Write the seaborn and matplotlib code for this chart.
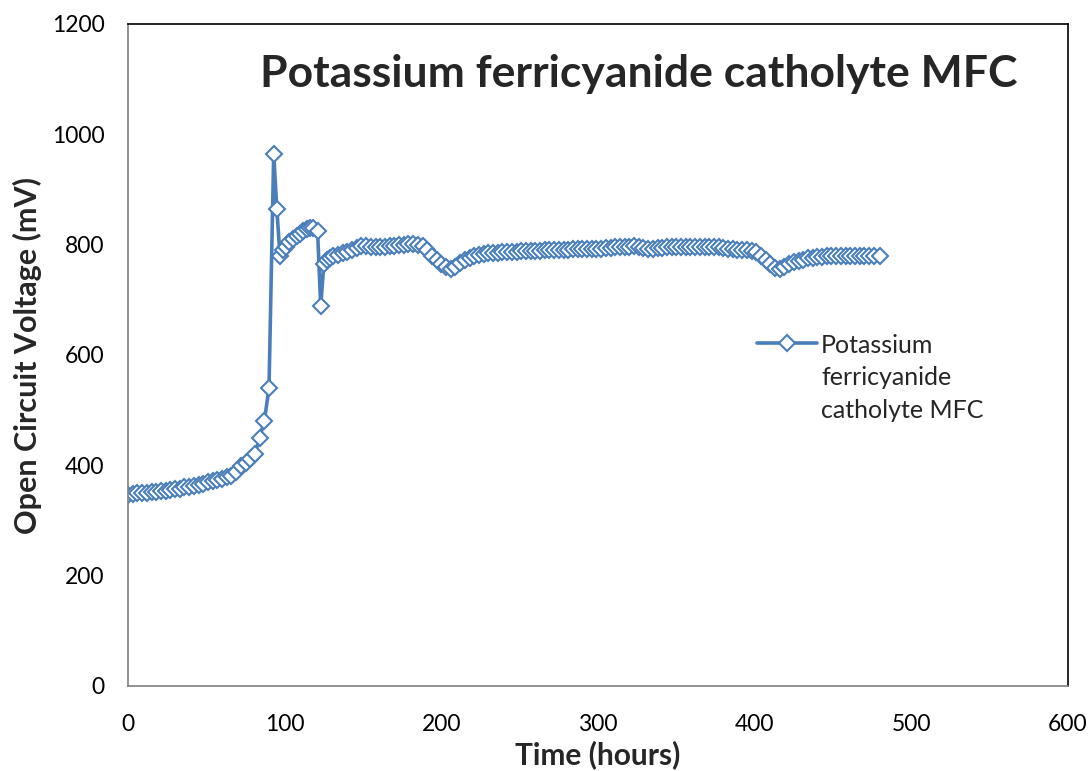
import matplotlib
matplotlib.use("Agg")
import matplotlib.pyplot as plt
import seaborn as sns
import pandas as pd

# =====================================
# Data
# =====================================

hours = [
    0, 3, 6, 9, 12, 15, 18, 21, 24, 27, 30, 33, 36, 39, 42, 45, 48, 51, 54, 57,
    60, 63, 66, 69, 72, 75, 78, 81, 84, 87, 90, 93, 95, 97, 99, 101, 103, 105,
    108, 110, 112, 114, 116, 118, 121, 123, 125, 127, 129, 131, 134, 137, 140,
    143, 146, 149, 152, 155, 158, 161, 164, 167, 170, 173, 176, 179, 182, 185,
    188, 191, 194, 197, 200, 203, 206, 209, 212, 215, 218, 221, 224, 227, 230,
    233, 236, 239, 242, 245, 248, 251, 254, 257, 260, 263, 266, 269, 272, 275,
    278, 281, 284, 287, 290, 293, 296, 299, 302, 305, 308, 311, 314, 317, 320,
    323, 326, 329, 332, 335, 338, 341, 344, 347, 350, 353, 356, 359, 362, 365,
    368, 371, 374, 377, 380, 383, 386, 389, 392, 395, 398, 401, 404, 407, 410,
    413, 416, 419, 422, 425, 428, 431, 434, 437, 440, 443, 446, 449, 452, 455,
    458, 461, 464, 467, 470, 473, 476, 480,
]

voltage_mv = [
    347, 348, 349, 350, 350, 351, 352, 353, 354, 355, 357, 358, 360, 361, 363,
    365, 367, 369, 371, 373, 376, 378, 381, 388, 398, 405, 412, 420, 450, 480,
    540, 965, 865, 780, 790, 795, 805, 810, 815, 820, 825, 828, 830, 830, 825,
    688, 765, 772, 776, 779, 782, 784, 786, 790, 794, 797, 798, 796, 795, 795,
    796, 797, 798, 799, 800, 801, 801, 800, 797, 790, 780, 772, 765, 760, 755,
    760, 766, 772, 776, 779, 781, 783, 784, 785, 785, 786, 786, 787, 787, 788,
    788, 789, 789, 789, 790, 790, 790, 791, 791, 791, 792, 792, 792, 792, 793,
    793, 793, 794, 794, 795, 795, 796, 796, 797, 796, 794, 793, 793, 794, 794,
    795, 795, 795, 796, 796, 796, 796, 796, 796, 795, 795, 795, 794, 793, 792,
    791, 790, 790, 789, 787, 780, 772, 765, 758, 755, 760, 765, 768, 771, 773,
    775, 776, 777, 778, 779, 779, 780, 780, 780, 780, 780, 780, 780, 780, 780,
    780,
]

series_name = "Potassium\nferricyanide\ncatholyte MFC"
title_text = "Potassium ferricyanide catholyte MFC"
x_ticks = [0, 100, 200, 300, 400, 500, 600]
y_ticks = [0, 200, 400, 600, 800, 1000, 1200]

df = pd.DataFrame({"Time": hours, "Voltage": voltage_mv})

# =====================================
# Plot
# =====================================

sns.set_style("white")
plt.rcParams["font.family"] = ["Lato", "DejaVu Sans"]

fig = plt.figure(figsize=(10.9, 7.71), dpi=100)
ax = fig.add_axes([128 / 1090, 1 - 686 / 771, 940 / 1090, 662 / 771])

blue = "#4A7EBB"

sns.lineplot(
    data=df,
    x="Time",
    y="Voltage",
    ax=ax,
    color=blue,
    linewidth=2.6,
    marker="D",
    markersize=8,
    markerfacecolor="white",
    markeredgecolor=blue,
    markeredgewidth=1.5,
    label=series_name,
)

ax.set_xlim(0, 600)
ax.set_ylim(0, 1200)
ax.set_xticks(x_ticks)
ax.set_yticks(y_ticks)
ax.tick_params(axis="both", length=0, labelsize=16.5, colors="black")
ax.tick_params(axis="x", pad=20)
ax.tick_params(axis="y", pad=17)

ax.set_xlabel("Time (hours)", fontsize=21.5, fontweight="bold", labelpad=4)
ax.set_ylabel("Open Circuit Voltage (mV)", fontsize=22, fontweight="bold", labelpad=7)

for side in ["left", "bottom"]:
    ax.spines[side].set_color("#808080")
    ax.spines[side].set_linewidth(1.2)
for side in ["top", "right"]:
    ax.spines[side].set_color("black")
    ax.spines[side].set_linewidth(1.2)

ax.text(0.14, 0.924, title_text, transform=ax.transAxes,
        fontsize=32, fontweight="bold", ha="left", va="center")

leg = ax.legend(
    loc="upper left",
    bbox_to_anchor=(0.659, 0.547),
    frameon=False,
    fontsize=18,
    handlelength=2.4,
    handletextpad=0.15,
    borderaxespad=0,
)
for t in leg.get_texts():
    t.set_linespacing(1.5)
# align the legend line with the first line of the label
for col in leg._legend_handle_box.get_children():
    for entry in col.get_children():
        entry.align = "top"

plt.savefig("out.png", dpi=100)
plt.close()
